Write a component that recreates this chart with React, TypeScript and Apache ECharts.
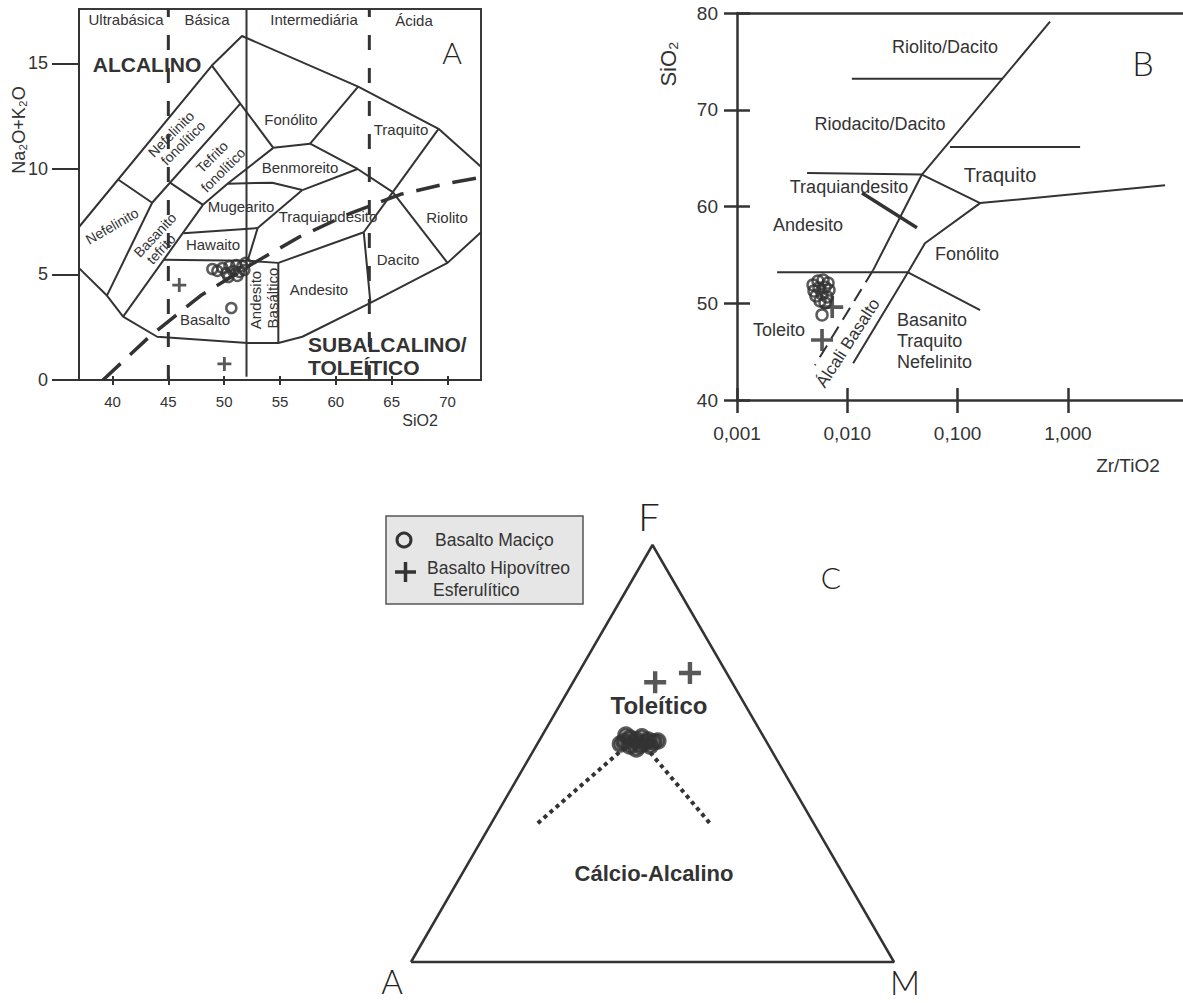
import React, { useEffect, useRef } from "react";
import * as echarts from "echarts";

const FONT = "'Liberation Sans', Arial, Helvetica, sans-serif";
const THIN = "Lato, 'Liberation Sans', sans-serif";
const INK = "#333333";

// ---------------- Panel A : TAS (SiO2 x Na2O+K2O) ----------------
const tasXTicks = [40, 45, 50, 55, 60, 65, 70];
const tasYTicks = [0, 5, 10, 15];
const tasXMin = 37;
const tasXMax = 73;
const tasYMin = 0;
const tasYMax = 17.58;

const tasOuter = [[37.0, 7.25], [48.9, 14.9], [51.6, 16.3], [62.0, 13.9], [69.2, 11.9], [73.0, 10.1]];
const tasLower = [[37.0, 5.3], [39.5, 4.0], [40.95, 3.0], [44.0, 2.05], [52.1, 1.75], [54.85, 1.75], [57.0, 2.05], [63.1, 3.65], [70.0, 5.55], [73.0, 7.0]];
const tasInner = [
  [[48.9, 14.9], [54.4, 11.0]],
  [[54.4, 11.0], [57.7, 11.2]],
  [[57.7, 11.2], [62.0, 13.9]],
  [[57.7, 11.2], [61.95, 10.0], [65.1, 8.9]],
  [[65.1, 8.9], [69.2, 11.9]],
  [[65.1, 8.9], [70.0, 5.55]],
  [[40.5, 9.5], [43.55, 8.4], [51.45, 13.1]],
  [[39.5, 4.0], [43.55, 8.4]],
  [[40.95, 3.0], [48.1, 8.3]],
  [[45.15, 9.35], [48.1, 8.3]],
  [[48.1, 8.3], [50.3, 9.3], [54.4, 11.0]],
  [[50.3, 9.3], [54.3, 9.35], [57.0, 9.0]],
  [[57.0, 9.0], [61.95, 10.0]],
  [[57.0, 9.0], [53.0, 7.2]],
  [[46.35, 6.95], [53.0, 7.2]],
  [[44.55, 5.7], [52.1, 5.65]],
  [[53.0, 7.2], [52.1, 5.65]],
  [[52.1, 5.65], [54.85, 5.55]],
  [[54.85, 5.55], [62.5, 7.0]],
  [[62.5, 7.0], [65.1, 8.9]],
  [[54.85, 5.55], [54.85, 1.75]],
  [[62.5, 7.0], [63.1, 3.65]],
];
const tasSolid52 = [[52, 0.15], [52, 17.58]];
const tasDashed45 = [[45, 0], [45, 17.58]];
const tasDashed63 = [[63, 0], [63, 17.58]];
const tasAlkalineCurve = [[39.15, 0], [43.4, 2.1], [47.9, 4.0], [52.35, 5.45], [56.8, 6.8], [61.3, 7.9], [65.8, 8.8], [70.3, 9.35], [73.0, 9.6]];

const tasCircleSiO2 = [48.94, 49.39, 49.84, 50.2, 50.47, 50.82, 51.09, 51.36, 51.63, 51.9, 50.38, 51.18, 51.81, 50.64];
const tasCircleAlk = [5.26, 5.17, 5.31, 5.07, 5.4, 5.17, 5.45, 5.12, 5.4, 5.55, 4.88, 4.93, 5.21, 3.41];
const tasCrossSiO2 = [45.98, 50.02];
const tasCrossAlk = [4.5, 0.76];

// ---------------- Panel B : Zr/TiO2 x SiO2 ----------------
const wfXTickValues = [0.001, 0.01, 0.1, 1];
const wfXTickLabels = ["0,001", "0,010", "0,100", "1,000"];
const wfXMinLog = -3;
const wfXMaxLog = 1.0435;
const wfYMin = 40;
const wfYMax = 80;

const wfMainSolid = [[0.689, 79.1], [0.0475, 63.3], [0.0171, 53.4]];
const wfMainDashed = [[0.0171, 53.4], [0.00509, 43.6]];
const wfRhyDac = [[0.011, 73.2], [0.258, 73.2]];
const wfRdcTrq = [[0.0853, 66.15], [1.29, 66.15]];
const wfTrqAndTop = [[0.00432, 63.45], [0.0475, 63.3]];
const wfAndTrqThick = [[0.0136, 61.4], [0.0428, 57.8]];
const wfTrqBottom = [[0.0475, 63.3], [0.16, 60.35], [7.6, 62.2]];
const wfAlkRight = [[0.16, 60.35], [0.0506, 56.2], [0.0355, 53.2], [0.0113, 43.8]];
const wfAndTol = [[0.00231, 53.2], [0.0355, 53.2]];
const wfPhoBas = [[0.0355, 53.2], [0.16, 49.3]];

const wfCircleRatio = [0.00489, 0.00542, 0.00603, 0.00669, 0.00499, 0.00554, 0.00628, 0.00683, 0.0052, 0.0059, 0.00655, 0.00566, 0.00628, 0.0059];
const wfCircleSiO2 = [51.89, 52.3, 52.4, 52.09, 51.27, 51.58, 51.68, 51.37, 50.75, 50.96, 50.65, 50.23, 50.03, 48.79];
const wfCrossRatio = [0.0073, 0.0059];
const wfCrossSiO2 = [49.6, 46.2];

// ---------------- Panel C : AFM ternary (F, A, M %) ----------------
const afmCircleF = [52.8, 53.7, 53.2, 54.0, 53.2, 52.8, 51.8, 52.0, 51.8, 52.5, 53.0, 52.3, 51.1, 54.4];
const afmCircleA = [29.5, 27.8, 26.8, 25.2, 24.3, 23.3, 28.8, 26.6, 24.6, 25.4, 22.4, 30.5, 27.8, 28.3];
const afmCircleM = [17.7, 18.5, 20.0, 20.8, 22.5, 23.9, 19.4, 21.4, 23.6, 22.1, 24.6, 17.2, 21.1, 17.3];
const afmCrossF = [67.1, 69.3];
const afmCrossA = [15.9, 7.6];
const afmCrossM = [17.0, 23.1];
const afmBoundF = [33.3, 54.0, 33.3];
const afmBoundA = [57.1, 26.2, 21.5];
const afmBoundM = [9.6, 19.8, 45.2];
const afmTriF = [0, 0, 100, 0];
const afmTriA = [100, 0, 0, 100];
const afmTriM = [0, 100, 0, 0];

const CROSS = "path://M4.8,0H7.2V4.8H12V7.2H7.2V12H4.8V7.2H0V4.8H4.8Z";
const CROSS_THIN = "path://M5,0H7V5H12V7H7V12H5V7H0V5H5Z";

const ternXY = (f: number, a: number, m: number) => {
  const s = f + a + m;
  return [(m + f / 2) / s, f / s];
};
const zip = (xs: number[], ys: number[]) => xs.map((x, i) => [x, ys[i]]);
const logPts = (pts: number[][]) => pts.map((p) => [Math.log10(p[0]), p[1]]);

function line(data: any[], xi: number, yi: number, width: number, type: any = "solid", clip = true) {
  return {
    type: "line",
    data,
    xAxisIndex: xi,
    yAxisIndex: yi,
    showSymbol: false,
    symbol: "none",
    silent: true,
    clip,
    z: 3,
    lineStyle: { color: INK, width, type, cap: "butt" },
  };
}

function circles(data: any[], xi: number, yi: number, size: number, bw: number, fill = "transparent") {
  return {
    type: "scatter",
    data,
    xAxisIndex: xi,
    yAxisIndex: yi,
    symbol: "circle",
    symbolSize: size,
    silent: true,
    z: 6,
    itemStyle: { color: fill, borderColor: INK, borderWidth: bw },
  };
}

function crosses(data: any[], xi: number, yi: number, size: number, path = CROSS) {
  return {
    type: "scatter",
    data,
    xAxisIndex: xi,
    yAxisIndex: yi,
    symbol: path,
    symbolSize: size,
    silent: true,
    z: 7,
    itemStyle: { color: "#2e2e2e" },
  };
}

type TOpt = { rot?: number; bold?: boolean; align?: string; family?: string; weight?: any; color?: string };
function txt(text: string, x: number, y: number, size: number, o: TOpt = {}) {
  const align = o.align || "center";
  return {
    type: "text",
    x,
    y,
    rotation: ((o.rot || 0) * Math.PI) / 180,
    z: 50,
    silent: true,
    style: {
      text,
      fill: o.color || INK,
      fontSize: size,
      fontFamily: o.family || FONT,
      fontWeight: o.weight || (o.bold ? "bold" : "normal"),
      align,
      verticalAlign: "middle",
      textAlign: align,
      textVerticalAlign: "middle",
    },
  };
}
const big = (t: string, x: number, y: number, s: number) => txt(t, x, y, s, { family: THIN, weight: 300, color: "#222" });

function buildOption() {
  const axisLineStyle = (w: number) => ({ color: INK, width: w });
  const wfLogTicks = wfXTickValues.map((v) => Math.log10(v));
  const wfFmt = (v: number) => {
    let best = 0;
    wfLogTicks.forEach((t, i) => {
      if (Math.abs(t - v) < Math.abs(wfLogTicks[best] - v)) best = i;
    });
    return Math.abs(wfLogTicks[best] - v) < 1e-6 ? wfXTickLabels[best] : "";
  };

  const xAxis: any[] = [
    // 0: A bottom
    {
      type: "value", gridIndex: 0, min: tasXMin, max: tasXMax, position: "bottom",
      axisLine: { show: true, onZero: false, lineStyle: axisLineStyle(2) },
      axisTick: { show: true, customValues: tasXTicks, length: 5, lineStyle: axisLineStyle(2) },
      axisLabel: { show: true, customValues: tasXTicks, fontSize: 15, color: INK, margin: 14, fontFamily: FONT },
      splitLine: { show: false },
    },
    // 1: A bottom inward ticks
    {
      type: "value", gridIndex: 0, min: tasXMin, max: tasXMax, position: "bottom",
      axisLine: { show: false, onZero: false },
      axisTick: { show: true, inside: true, customValues: tasXTicks, length: 4, lineStyle: axisLineStyle(2) },
      axisLabel: { show: false },
      splitLine: { show: false },
    },
    // 2: B bottom
    {
      type: "value", gridIndex: 1, min: wfXMinLog, max: wfXMaxLog, position: "bottom",
      axisLine: { show: true, onZero: false, lineStyle: axisLineStyle(2.5) },
      axisTick: { show: true, customValues: wfLogTicks, length: 13, lineStyle: axisLineStyle(2.5) },
      axisLabel: { show: true, customValues: wfLogTicks, formatter: wfFmt, fontSize: 19, color: INK, margin: 24, fontFamily: FONT },
      splitLine: { show: false },
    },
    // 3: B bottom inward ticks
    {
      type: "value", gridIndex: 1, min: wfXMinLog, max: wfXMaxLog, position: "bottom",
      axisLine: { show: false, onZero: false },
      axisTick: { show: true, inside: true, customValues: wfLogTicks, length: 12, lineStyle: axisLineStyle(2.5) },
      axisLabel: { show: false },
      splitLine: { show: false },
    },
    // 4: B top border
    {
      type: "value", gridIndex: 1, min: wfXMinLog, max: wfXMaxLog, position: "top",
      axisLine: { show: true, onZero: false, lineStyle: axisLineStyle(2.5) },
      axisTick: { show: false },
      axisLabel: { show: false },
      splitLine: { show: false },
    },
    // 5: C
    { type: "value", gridIndex: 2, min: 0, max: 1, show: false, splitLine: { show: false } },
  ];

  const yAxis: any[] = [
    // 0: A left
    {
      type: "value", gridIndex: 0, min: tasYMin, max: tasYMax, position: "left",
      axisLine: { show: true, onZero: false, lineStyle: axisLineStyle(2) },
      axisTick: { show: true, customValues: tasYTicks, length: 27, lineStyle: axisLineStyle(2) },
      axisLabel: { show: true, customValues: tasYTicks, fontSize: 18, color: INK, margin: 31, fontFamily: FONT },
      splitLine: { show: false },
    },
    // 1: B left
    {
      type: "value", gridIndex: 1, min: wfYMin, max: wfYMax, interval: 10, position: "left",
      axisLine: { show: true, onZero: false, lineStyle: axisLineStyle(2.5) },
      axisTick: { show: true, length: 13, lineStyle: axisLineStyle(2.5) },
      axisLabel: { show: true, fontSize: 19, color: INK, margin: 19, fontFamily: FONT },
      splitLine: { show: false },
    },
    // 2: B left inward ticks
    {
      type: "value", gridIndex: 1, min: wfYMin, max: wfYMax, interval: 10, position: "left",
      axisLine: { show: false, onZero: false },
      axisTick: { show: true, inside: true, length: 13, lineStyle: axisLineStyle(2.5) },
      axisLabel: { show: false },
      splitLine: { show: false },
    },
    // 3: C
    { type: "value", gridIndex: 2, min: 0, max: 1, show: false, splitLine: { show: false } },
  ];

  const series: any[] = [];
  // ---- A ----
  series.push(line(tasOuter, 0, 0, 2));
  series.push(line(tasLower, 0, 0, 2));
  tasInner.forEach((seg) => series.push(line(seg, 0, 0, 2)));
  series.push(line(tasSolid52, 0, 0, 2));
  series.push(line(tasDashed45, 0, 0, 3, [15, 18]));
  series.push(line(tasDashed63, 0, 0, 3, [15, 18]));
  series.push(line(tasAlkalineCurve, 0, 0, 3.5, [24, 13]));
  series.push(circles(zip(tasCircleSiO2, tasCircleAlk), 0, 0, 10, 2.5));
  series.push(crosses(zip(tasCrossSiO2, tasCrossAlk), 0, 0, 14));

  // ---- B ----
  [wfMainSolid, wfRhyDac, wfRdcTrq, wfTrqAndTop, wfTrqBottom, wfAlkRight, wfAndTol, wfPhoBas].forEach((seg) =>
    series.push(line(logPts(seg), 2, 1, 2))
  );
  series.push(line(logPts(wfAndTrqThick), 2, 1, 3.5));
  series.push(line(logPts(wfMainDashed), 2, 1, 2, [14, 8]));
  series.push(circles(zip(wfCircleRatio.map((v) => Math.log10(v)), wfCircleSiO2), 2, 1, 11, 2.5));
  series.push(crosses(zip(wfCrossRatio.map((v) => Math.log10(v)), wfCrossSiO2), 2, 1, 22, CROSS_THIN));

  // ---- C ----
  series.push(line(afmTriF.map((f, i) => ternXY(f, afmTriA[i], afmTriM[i])), 5, 3, 2.5, "solid", false));
  series.push(line(afmBoundF.map((f, i) => ternXY(f, afmBoundA[i], afmBoundM[i])), 5, 3, 4, [4, 4], false));
  series.push(circles(afmCircleF.map((f, i) => ternXY(f, afmCircleA[i], afmCircleM[i])), 5, 3, 14, 3.5, "rgba(51,51,51,0.65)"));
  series.push(crosses(afmCrossF.map((f, i) => ternXY(f, afmCrossA[i], afmCrossM[i])), 5, 3, 22));

  const graphics: any[] = [
    // ---- A texts ----
    txt("Ultrabásica", 126, 19, 15),
    txt("Básica", 207, 19, 15),
    txt("Intermediária", 314, 19, 15),
    txt("Ácida", 414, 20, 15),
    big("A", 452, 52, 30),
    txt("ALCALINO", 147, 64, 21, { bold: true }),
    txt("Fonólito", 291, 119, 15),
    txt("Traquito", 401, 129, 15),
    txt("Benmoreito", 300, 167, 15),
    txt("Mugearito", 241, 206, 15),
    txt("Traquiandesito", 328, 216, 15),
    txt("Riolito", 447, 217, 15),
    txt("Hawaito", 213, 244, 15),
    txt("Dacito", 398, 259, 15),
    txt("Andesito", 319, 289, 15),
    txt("Basalto", 205, 319, 15),
    txt("Andesito", 255, 300, 15, { rot: 90 }),
    txt("Basáltico", 272, 298, 15, { rot: 90 }),
    txt("Nefelinito", 112, 226, 14, { rot: 30 }),
    txt("Basanito", 155, 235, 14, { rot: 47 }),
    txt("tefrito", 161, 249, 14, { rot: 47 }),
    txt("Nefelinito", 171, 134, 14, { rot: 45 }),
    txt("fonolítico", 183, 143, 14, { rot: 45 }),
    txt("Tefrito", 212, 157, 14, { rot: 45 }),
    txt("fonolítico", 223, 170, 14, { rot: 45 }),
    txt("SUBALCALINO/", 308, 344, 21, { bold: true, align: "left" }),
    txt("TOLEÍTICO", 308, 367, 21, { bold: true, align: "left" }),
    txt("SiO2", 420, 420, 16),
    txt("Na₂O+K₂O", 19, 130, 18, { rot: 90 }),
    // ---- B texts ----
    txt("Riolito/Dacito", 945, 47, 18),
    txt("Riodacito/Dacito", 880, 124, 18),
    txt("Traquito", 1000, 175, 20),
    txt("Traquiandesito", 849, 187, 18),
    txt("Andesito", 808, 225, 18),
    txt("Fonólito", 967, 254, 18),
    txt("Toleito", 779, 330, 18),
    txt("Basanito", 897, 320, 18, { align: "left" }),
    txt("Traquito", 897, 341, 18, { align: "left" }),
    txt("Nefelinito", 897, 362, 18, { align: "left" }),
    txt("Álcali Basalto", 848, 343, 17, { rot: 57 }),
    big("B", 1143, 62, 34),
    txt("Zr/TiO2", 1128, 465, 19),
    txt("SiO₂", 668, 64, 22, { rot: 90 }),
    // ---- C texts ----
    big("F", 649, 516, 38),
    big("A", 392, 981, 33),
    big("M", 905, 982, 33),
    big("C", 831, 577, 30),
    txt("Toleítico", 659, 705, 24, { bold: true }),
    txt("Cálcio-Alcalino", 654, 873, 22, { bold: true }),
    // ---- C legend ----
    { type: "rect", z: 40, silent: true, shape: { x: 386, y: 516, width: 197, height: 88 }, style: { fill: "#e6e6e6", stroke: "#555", lineWidth: 1.5 } },
    { type: "circle", z: 45, silent: true, shape: { cx: 404, cy: 540, r: 7 }, style: { fill: "none", stroke: INK, lineWidth: 3 } },
    { type: "line", z: 45, silent: true, shape: { x1: 395, y1: 572, x2: 416, y2: 572 }, style: { stroke: INK, lineWidth: 3.5 } },
    { type: "line", z: 45, silent: true, shape: { x1: 405.5, y1: 562, x2: 405.5, y2: 582 }, style: { stroke: INK, lineWidth: 3.5 } },
    txt("Basalto Maciço", 435, 540, 17.5, { align: "left" }),
    txt("Basalto Hipovítreo", 427, 568, 17.5, { align: "left" }),
    txt("Esferulítico", 433, 590, 17.5, { align: "left" }),
  ];

  return {
    animation: false,
    backgroundColor: "#ffffff",
    textStyle: { fontFamily: FONT },
    grid: [
      { left: 79, top: 9, width: 402, height: 371, show: true, borderColor: "#3a3a3a", borderWidth: 2, backgroundColor: "transparent" },
      { left: 737, top: 13, width: 446, height: 387 },
      { left: 411, top: 545, width: 483, height: 417 },
    ],
    xAxis,
    yAxis,
    series,
    graphic: { elements: graphics },
  };
}

export default function App() {
  const ref = useRef<HTMLDivElement>(null);
  useEffect(() => {
    if (!ref.current) return;
    const chart = echarts.init(ref.current, undefined, { renderer: "svg" });
    chart.setOption(buildOption() as any);
    return () => chart.dispose();
  }, []);
  return (
    <div
      ref={ref}
      style={{ position: "fixed", left: 0, top: 0, width: 1183, height: 1003, background: "#fff" }}
    />
  );
}
